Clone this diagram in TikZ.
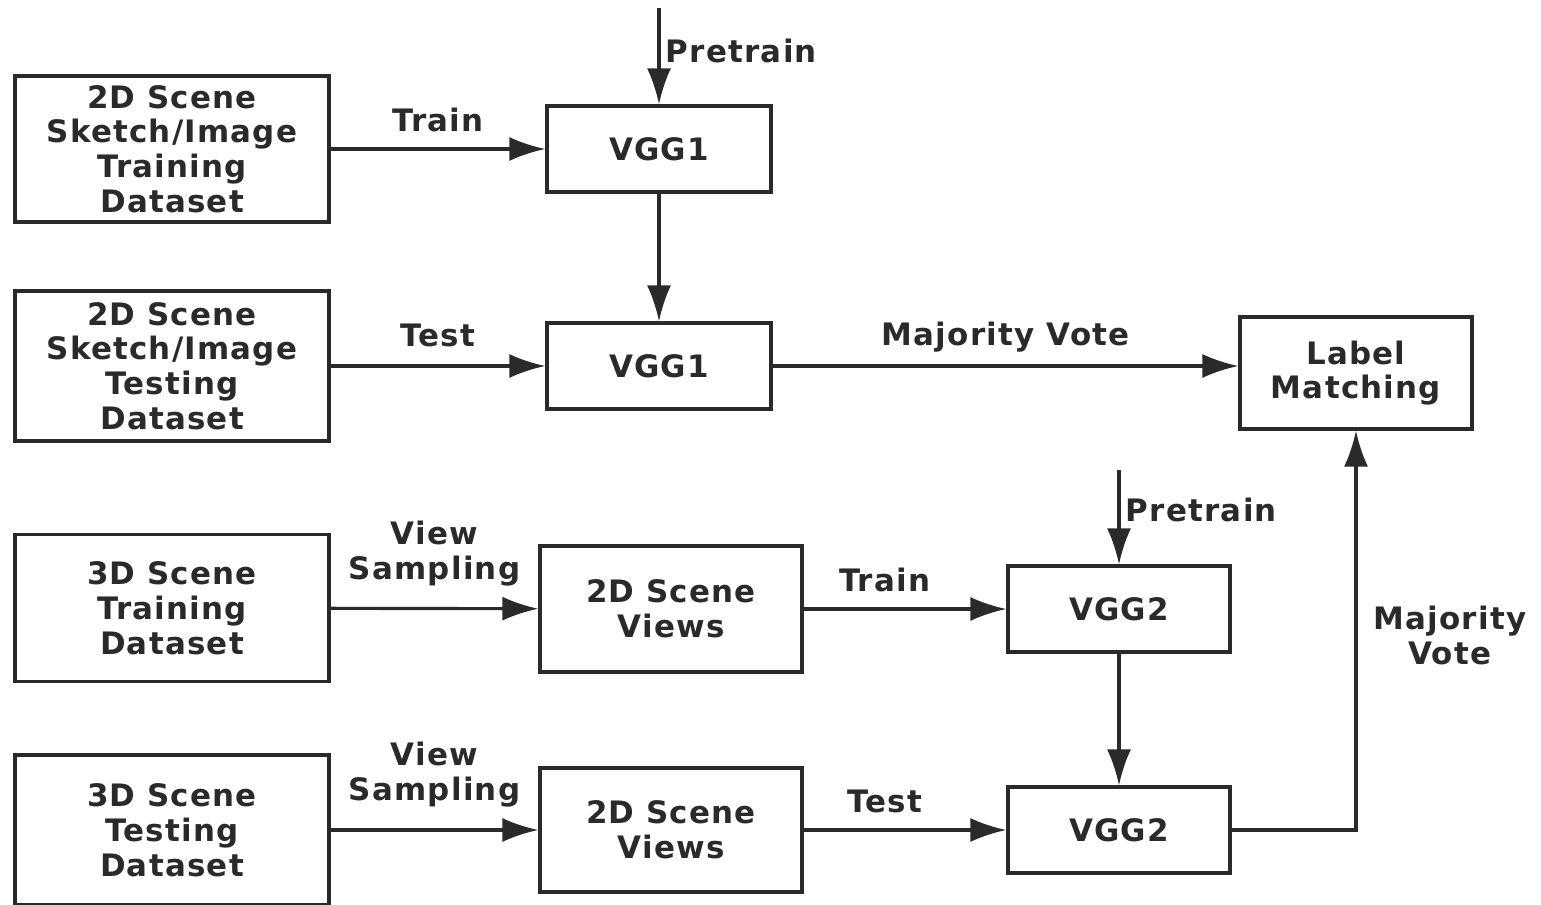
\documentclass[tikz,border=0pt]{standalone}
\usepackage{fontspec}
\setmainfont{DejaVu Sans}[LetterSpace=4]
\usetikzlibrary{arrows.meta, positioning}

\definecolor{ink}{HTML}{2A2A2A}

\tikzset{
    box/.style={rectangle, draw=ink, text=ink, line width=1.8pt, align=center, inner sep=0pt,
        font=\bfseries\fontsize{17.6}{19.8}\selectfont},
    flow/.style={draw=ink, line width=1.8pt, -{Latex[length=0.72cm, width=0.48cm]}},
    tag/.style={text=ink, align=center, inner sep=2pt, font=\bfseries\fontsize{17.6}{19.8}\selectfont}
}

\begin{document}
\begin{tikzpicture}[x=0.02cm, y=-0.02cm]
    \useasboundingbox (0,0) rectangle (1541,905);

    % Nodes representing datasets
    \node (sktrain) [box, minimum width=6.28cm, minimum height=2.92cm] at (172,149) {2D Scene\\Sketch/Image\\Training\\Dataset};
    \node (sktest) [box, minimum width=6.28cm, minimum height=3.0cm] at (172,366) {2D Scene\\Sketch/Image\\Testing\\Dataset};
    \node (scntrain) [box, minimum width=6.28cm, minimum height=2.94cm] at (172,608) {3D Scene\\Training\\Dataset};
    \node (scntest) [box, minimum width=6.28cm, minimum height=3.0cm] at (172,830) {3D Scene\\Testing\\Dataset};

    % Nodes representing networks
    \node (vggA) [box, minimum width=4.48cm, minimum height=1.72cm] at (659,149) {VGG1};
    \node (vggB) [box, minimum width=4.48cm, minimum height=1.72cm] at (659,366) {VGG1};
    \node (vggC) [box, minimum width=4.44cm, minimum height=1.72cm] at (1119,609) {VGG2};
    \node (vggD) [box, minimum width=4.44cm, minimum height=1.72cm] at (1119,830) {VGG2};

    % Nodes representing views and matching
    \node (viewA) [box, minimum width=5.24cm, minimum height=2.52cm] at (671,609) {2D Scene\\Views};
    \node (viewB) [box, minimum width=5.24cm, minimum height=2.48cm] at (671,830) {2D Scene\\Views};
    \node (match) [box, minimum width=4.64cm, minimum height=2.24cm] at (1356,373) {Label\\Matching};

    % Free ends of the pretrain arrows
    \coordinate (preA) at (659,8);
    \coordinate (preC) at (1119,470);

    % Arrows of the sketch/image branch
    \draw[flow] (preA) -- node[tag, right, xshift=1pt, yshift=3pt] {Pretrain} (vggA);
    \draw[flow] (sktrain) -- node[tag, above, yshift=7pt] {Train} (vggA);
    \draw[flow] (vggA) -- (vggB);
    \draw[flow] (sktest) -- node[tag, above, yshift=8pt] {Test} (vggB);
    \draw[flow] (vggB.east) -- node[tag, above, yshift=5pt] {Majority Vote} (vggB.east -| match.west);

    % Arrows of the 3D scene branch
    \draw[flow] (scntrain) -- node[tag, above, yshift=10pt] {View\\Sampling} (viewA);
    \draw[flow] (viewA) -- node[tag, above, pos=0.4, yshift=7pt] {Train} (vggC);
    \draw[flow] (preC) -- node[tag, right, xshift=1pt, yshift=4pt] {Pretrain} (vggC);
    \draw[flow] (vggC) -- (vggD);
    \draw[flow] (scntest) -- node[tag, above, yshift=10pt] {View\\Sampling} (viewB);
    \draw[flow] (viewB) -- node[tag, above, pos=0.4, yshift=7pt] {Test} (vggD);
    \draw[flow] (vggD.east) -| node[tag, right, pos=0.75, xshift=7pt, yshift=-3pt] {Majority\\Vote} (match.south);
\end{tikzpicture}
\end{document}
